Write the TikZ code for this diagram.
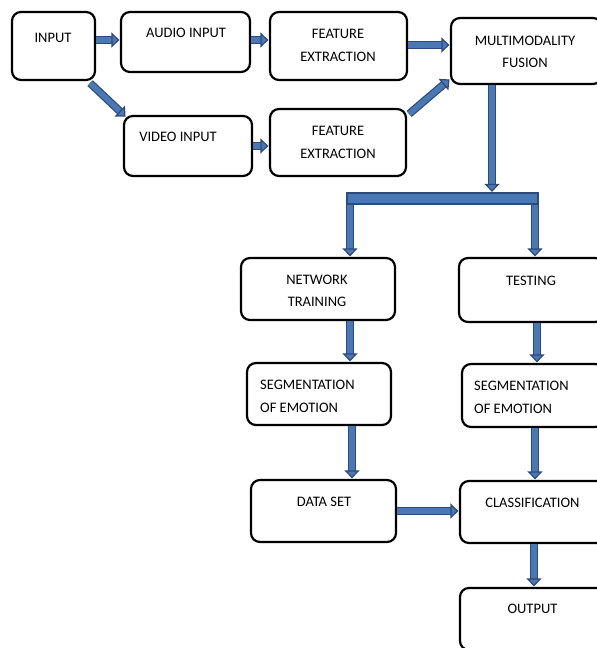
\documentclass[tikz,border=0pt]{standalone}
\usepackage{fontspec}
\setmainfont{Carlito}
\usetikzlibrary{arrows.meta}
\definecolor{arrfill}{HTML}{4A78B4}
\definecolor{arrdark}{HTML}{2C4A7C}
\begin{document}
\begin{tikzpicture}[x=1pt,y=-1pt,
  box/.style={draw=black, line width=2.2pt, rounded corners=9pt, fill=white, inner sep=0pt},
  lbl/.style={inner sep=0pt, font=\fontsize{14.5}{16}\selectfont, text=black},
  fat/.style={draw=arrdark, line width=1.2pt, double=arrfill, double distance=5.5pt,
     -{Triangle[length=8pt, width=15pt, fill=arrfill, line width=1.2pt]}, shorten >=0.5pt},
  barst/.style={draw=arrdark, line width=1.2pt, fill=arrfill, inner sep=0pt}]
\useasboundingbox (0,0) rectangle (597,648);
\clip (0,0) rectangle (597,648);
% boxes
\node[box, minimum width=83pt,  minimum height=68pt] (in)    at (53.5,46)  {};
\node[box, minimum width=129pt, minimum height=60pt] (audio) at (185.5,42) {};
\node[box, minimum width=137pt, minimum height=68pt] (fe1)   at (338.5,46) {};
\node[box, minimum width=151pt, minimum height=66pt] (fus)   at (526.5,51) {};
\node[box, minimum width=128pt, minimum height=60pt] (video) at (188,146)  {};
\node[box, minimum width=136pt, minimum height=67pt] (fe2)   at (338,142.5) {};
\node[box, minimum width=154pt, minimum height=62pt] (nt)    at (318,289)  {};
\node[box, minimum width=145pt, minimum height=64pt] (test)  at (531.5,290) {};
\node[box, minimum width=144pt, minimum height=62pt] (seg1)  at (319,394)  {};
\node[box, minimum width=142pt, minimum height=63pt] (seg2)  at (533,395.5) {};
\node[box, minimum width=145pt, minimum height=62pt] (ds)    at (323.5,511) {};
\node[box, minimum width=146pt, minimum height=62pt] (cls)   at (533,512)  {};
\node[box, minimum width=146pt, minimum height=62pt] (out)   at (533,619)  {};
\node[barst, minimum width=191pt, minimum height=11pt] (bar) at (442.5,198.5) {};
% labels
\node[lbl] at (53,38) {INPUT};
\node[lbl] at (186,33) {AUDIO INPUT};
\node[lbl] at (178,137) {VIDEO INPUT};
\node[lbl] at (338,34) {FEATURE};
\node[lbl] at (338,57) {EXTRACTION};
\node[lbl] at (338,131) {FEATURE};
\node[lbl] at (338,153.5) {EXTRACTION};
\node[lbl] at (525,41) {MULTIMODALITY};
\node[lbl] at (525,63) {FUSION};
\node[lbl] at (317,279.5) {NETWORK};
\node[lbl] at (317,302) {TRAINING};
\node[lbl] at (531,281) {TESTING};
\node[lbl, anchor=west] at (260,384.5) {SEGMENTATION};
\node[lbl, anchor=west] at (260,407.5) {OF EMOTION};
\node[lbl, anchor=west] at (474,386) {SEGMENTATION};
\node[lbl, anchor=west] at (474,408.5) {OF EMOTION};
\node[lbl] at (324,501.5) {DATA SET};
\node[lbl] at (532.5,502.5) {CLASSIFICATION};
\node[lbl] at (532.5,609) {OUTPUT};
% arrows
\draw[fat] ([yshift=6pt]in.east) -- ([yshift=6pt]in.east -| audio.west);
\draw[fat] ([yshift=2pt]audio.east) -- ([yshift=2pt]audio.east -| fe1.west);
\draw[fat] (video.east) -- (video.east -| fe2.west);
\draw[fat] ([yshift=1pt]fe1.east) -- ([yshift=1pt]fe1.east -| fus.west);
\draw[fat] ([shift={(-6pt,-2pt)}]in.south east) -- ([shift={(3pt,-2pt)}]video.north west);
\draw[fat] ([shift={(2pt,-6pt)}]fe2.north east) -- ([shift={(0pt,6pt)}]fus.south west);
\draw[fat] ([xshift=-34.5pt]fus.south) -- ([xshift=-34.5pt]fus.south |- bar.north);
\draw[fat] ([xshift=32pt]nt.north |- bar.south) -- ([xshift=32pt]nt.north);
\draw[fat] ([xshift=3.5pt]test.north |- bar.south) -- ([xshift=3.5pt]test.north);
\draw[fat] ([xshift=32pt]nt.south) -- ([xshift=32pt]nt.south |- seg1.north);
\draw[fat] ([xshift=5.5pt]test.south) -- ([xshift=5.5pt]test.south |- seg2.north);
\draw[fat] ([xshift=33pt]seg1.south) -- ([xshift=33pt]seg1.south |- ds.north);
\draw[fat] ([xshift=2pt]seg2.south) -- ([xshift=2pt]seg2.south |- cls.north);
\draw[fat] (ds.east) -- (ds.east -| cls.west);
\draw[fat] ([xshift=1pt]cls.south) -- ([xshift=1pt]cls.south |- out.north);
\end{tikzpicture}
\end{document}
